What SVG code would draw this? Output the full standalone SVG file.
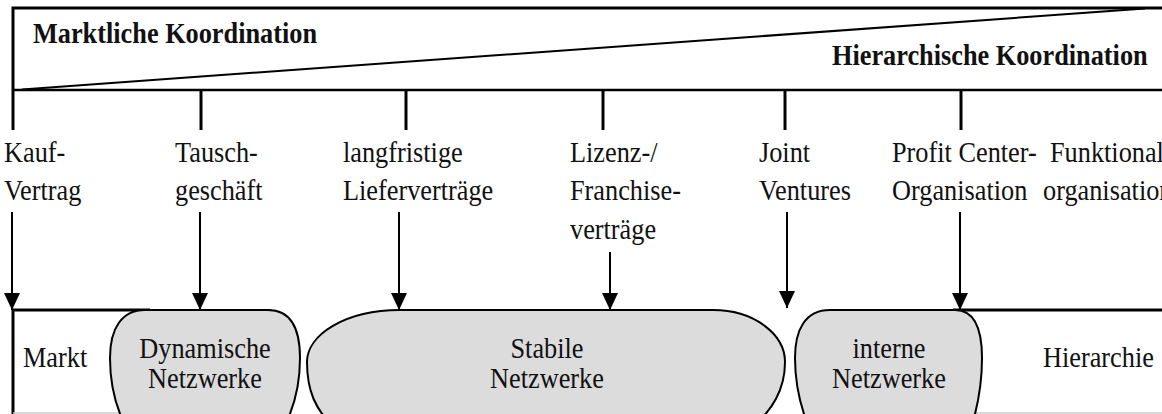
<svg xmlns="http://www.w3.org/2000/svg" width="1162" height="414" viewBox="0 0 1162 414">
<style>
text{font-family:"Liberation Serif","Times New Roman",serif;font-size:26.3px;fill:#111}
.b{font-weight:bold}
.m{text-anchor:middle}
.frame{stroke:#000;stroke-width:3;fill:none}
.tick{stroke:#000;stroke-width:3}
.arr{stroke:#000;stroke-width:2;marker-end:url(#ah)}
.shape{fill:#dcdcdc;stroke:#000;stroke-width:2}
</style>
<defs>
<marker id="ah" markerWidth="17" markerHeight="16" refX="17" refY="8" orient="auto" markerUnits="userSpaceOnUse" viewBox="0 0 17 16">
<path d="M0,0 L17,8 L0,16 Z" fill="#000"/>
</marker>
</defs>
<rect width="1162" height="414" fill="#fff"/>
<g id="scale">
<path class="frame" d="M1170,8 L13,8 L13,130"/>
<line x1="13" y1="90" x2="1170" y2="90" stroke="#000" stroke-width="2.5"/>
<path d="M22,89.5 L1145,8.5" stroke="#000" stroke-width="2" fill="none"/>
<text class="b" x="33" y="39.8" transform="scale(1,1.08)">Marktliche Koordination</text>
<text class="b" x="832" y="60.2" transform="scale(1,1.08)">Hierarchische Koordination</text>
<line class="tick" x1="201" y1="90" x2="201" y2="130"/>
<line class="tick" x1="406" y1="90" x2="406" y2="130"/>
<line class="tick" x1="603" y1="90" x2="603" y2="130"/>
<line class="tick" x1="785" y1="90" x2="785" y2="130"/>
<line class="tick" x1="961" y1="90" x2="961" y2="130"/>
</g>
<g id="labels" transform="scale(1,1.08)">
<text x="4" y="150">Kauf-</text><text x="4" y="185.2">Vertrag</text>
<text x="175" y="150">Tausch-</text><text x="175" y="185.2">geschäft</text>
<text x="343" y="150">langfristige</text><text x="343" y="185.2">Lieferverträge</text>
<text x="570" y="150">Lizenz-/</text><text x="570" y="185.2">Franchise-</text><text x="570" y="221.3">verträge</text>
<text x="759" y="150">Joint</text><text x="759" y="185.2">Ventures</text>
<text x="892" y="150">Profit Center-</text><text x="892" y="185.2">Organisation</text>
<text x="1050" y="150">Funktional</text><text x="1043" y="185.2">organisation</text>
</g>
<g id="markt">
<path d="M13,414 L13,310 L150,310" stroke="#000" stroke-width="3" fill="none"/>
<line x1="13" y1="413" x2="130" y2="413" stroke="#ccc" stroke-width="1.5"/>
<text x="23" y="339.8" transform="scale(1,1.08)">Markt</text>
</g>
<g id="hierarchie">
<path d="M953,310 L1170,310" stroke="#000" stroke-width="3" fill="none"/>
<line x1="975" y1="413" x2="1162" y2="413" stroke="#ccc" stroke-width="1.5"/>
<text x="1043" y="339.8" transform="scale(1,1.08)">Hierarchie</text>
</g>
<g id="dynamisch">
<path class="shape" d="M145,310 L268,310 C290,310 300,328 300,358 C300,385 295,405 285,425 L125,425 C115,405 110,385 110,358 C110,328 122,310 145,310 Z"/>
<text class="m" x="205" y="331.5" transform="scale(1,1.08)">Dynamische</text>
<text class="m" x="205" y="359.3" transform="scale(1,1.08)">Netzwerke</text>
</g>
<g id="stabil">
<path class="shape" d="M400,310 L713,310 C755,310 785,335 785,362 C785,390 772,410 752,428 L335,428 C315,410 307,390 307,362 C307,335 345,310 400,310 Z"/>
<text class="m" x="547" y="331.5" transform="scale(1,1.08)">Stabile</text>
<text class="m" x="547" y="359.3" transform="scale(1,1.08)">Netzwerke</text>
</g>
<g id="intern">
<path class="shape" d="M830,310 L955,310 C975,310 982,330 982,358 C982,385 978,405 972,425 L808,425 C800,405 795,385 795,358 C795,330 805,310 830,310 Z"/>
<text class="m" x="889" y="331.5" transform="scale(1,1.08)">interne</text>
<text class="m" x="889" y="359.3" transform="scale(1,1.08)">Netzwerke</text>
</g>
<g id="connectors">
<line class="arr" x1="12" y1="212" x2="12" y2="310"/>
<line class="arr" x1="200" y1="212" x2="200" y2="310"/>
<line class="arr" x1="399" y1="212" x2="399" y2="310"/>
<line class="arr" x1="610" y1="252" x2="610" y2="310"/>
<line class="arr" x1="787" y1="212" x2="787" y2="308"/>
<line class="arr" x1="960" y1="212" x2="960" y2="310"/>
</g>
</svg>
